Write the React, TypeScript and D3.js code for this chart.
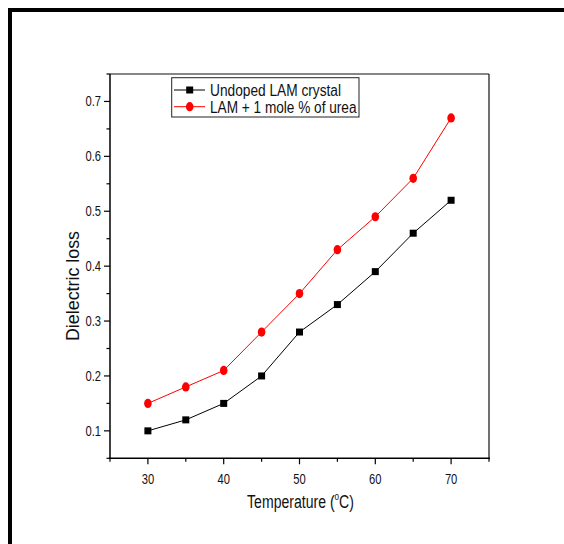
import React from "react";
import * as d3 from "d3";

const temperatures = [30, 35, 40, 45, 50, 55, 60, 65, 70];
const undoped = [0.1, 0.12, 0.15, 0.2, 0.28, 0.33, 0.39, 0.46, 0.52];
const urea = [0.15, 0.18, 0.21, 0.28, 0.35, 0.43, 0.49, 0.56, 0.67];
const xMajorTicks = [30, 40, 50, 60, 70];
const xMinorTicks = [25, 35, 45, 55, 65, 75];
const yMajorTicks = [0.1, 0.2, 0.3, 0.4, 0.5, 0.6, 0.7];
const yMinorTicks = [0.05, 0.15, 0.25, 0.35, 0.45, 0.55, 0.65, 0.75];
const seriesNames = ["Undoped LAM crystal", "LAM + 1 mole % of urea"];
const xTitle = "Temperature (";
const yTitle = "Dielectric loss";

const W = 564;
const H = 544;
const FONT = "'Liberation Sans', Arial, sans-serif";
const SX = 0.8;

function NText({
  x,
  y,
  size,
  anchor = "start",
  sx = SX,
  rotate = 0,
  children,
}: {
  x: number;
  y: number;
  size: number;
  anchor?: string;
  sx?: number;
  rotate?: number;
  children: React.ReactNode;
}) {
  return (
    <g transform={`translate(${x},${y}) rotate(${rotate}) scale(${sx},1)`}>
      <text x={0} y={0} textAnchor={anchor as any} fontSize={size} fontFamily={FONT} fill="#111">
        {children}
      </text>
    </g>
  );
}

export default function App() {
  const left = 110, right = 489, top = 74, bottom = 458.3;
  const x = d3.scaleLinear().domain([25, 75]).range([left, right]);
  const y = d3.scaleLinear().domain([0.05, 0.75]).range([bottom, top]);
  const line = d3
    .line<number>()
    .x((_, i) => x(temperatures[i]))
    .y((d) => y(d));

  return (
    <svg
      width={W}
      height={H}
      style={{ position: "absolute", left: 0, top: 0, background: "#fff" }}
    >
      <rect x={0} y={0} width={W} height={H} fill="#fff" />
      {/* outer border */}
      <line x1={8} x2={W} y1={10} y2={10} stroke="#000" strokeWidth={4} />
      <line x1={10} x2={10} y1={8} y2={H} stroke="#000" strokeWidth={4} />

      {/* frame top/right */}
      <line x1={left} x2={right} y1={top} y2={top} stroke="#111" strokeWidth={1.2} />
      <line x1={right} x2={right} y1={top} y2={bottom} stroke="#111" strokeWidth={1.2} />
      {/* axes */}
      <line x1={left} x2={left} y1={top} y2={bottom} stroke="#000" strokeWidth={1.5} />
      <line x1={left - 1} x2={right + 1} y1={bottom} y2={bottom} stroke="#000" strokeWidth={1.5} />

      {xMajorTicks.map((t) => (
        <g key={"xM" + t}>
          <line x1={x(t)} x2={x(t)} y1={bottom} y2={bottom + 6} stroke="#000" strokeWidth={1.2} />
          <NText x={x(t)} y={484} size={14} anchor="middle">
            {t}
          </NText>
        </g>
      ))}
      {xMinorTicks.map((t) => (
        <line key={"xm" + t} x1={x(t)} x2={x(t)} y1={bottom} y2={bottom + 3.5} stroke="#000" strokeWidth={1.2} />
      ))}
      {yMajorTicks.map((t) => (
        <g key={"yM" + t}>
          <line x1={left - 6} x2={left} y1={y(t)} y2={y(t)} stroke="#000" strokeWidth={1.2} />
          <NText x={101} y={y(t) + 5} size={14} anchor="end">
            {t.toFixed(1)}
          </NText>
        </g>
      ))}
      {yMinorTicks.map((t) => (
        <line key={"ym" + t} x1={left - 3.5} x2={left} y1={y(t)} y2={y(t)} stroke="#000" strokeWidth={1.2} />
      ))}

      {/* series */}
      <path d={line(undoped) || ""} fill="none" stroke="#000" strokeWidth={1} />
      <path d={line(urea) || ""} fill="none" stroke="#ff0000" strokeWidth={1} />
      {undoped.map((v, i) => (
        <rect key={"u" + i} x={x(temperatures[i]) - 3.5} y={y(v) - 3.5} width={7} height={7} fill="#000" />
      ))}
      {urea.map((v, i) => (
        <ellipse key={"r" + i} cx={x(temperatures[i])} cy={y(v)} rx={3.8} ry={4.6} fill="#ff0000" />
      ))}

      {/* legend */}
      <rect x={171.7} y={77.7} width={187.3} height={39.3} fill="#fff" stroke="#222" strokeWidth={1} />
      <line x1={174} x2={205} y1={90} y2={90} stroke="#000" strokeWidth={1} />
      <rect x={186.2} y={86.5} width={7} height={7} fill="#000" />
      <text
        x={210}
        y={95.8}
        fontSize={16}
        fontFamily={FONT}
        fill="#111"
        textLength={131}
        lengthAdjust="spacingAndGlyphs"
      >
        {seriesNames[0]}
      </text>
      <line x1={174} x2={205} y1={106.7} y2={106.7} stroke="#ff0000" strokeWidth={1} />
      <ellipse cx={189.7} cy={106.7} rx={3.8} ry={4.6} fill="#ff0000" />
      <text
        x={210}
        y={112.5}
        fontSize={16}
        fontFamily={FONT}
        fill="#111"
        textLength={146.5}
        lengthAdjust="spacingAndGlyphs"
      >
        {seriesNames[1]}
      </text>

      {/* axis titles */}
      <NText x={300.5} y={507.5} size={19} anchor="middle" sx={0.74}>
        {xTitle}
        <tspan fontSize={11} dy={-8}>o</tspan>
        <tspan dy={8}>C)</tspan>
      </NText>
      <NText x={79} y={286} size={19} anchor="middle" sx={0.94} rotate={-90}>
        {yTitle}
      </NText>
    </svg>
  );
}
